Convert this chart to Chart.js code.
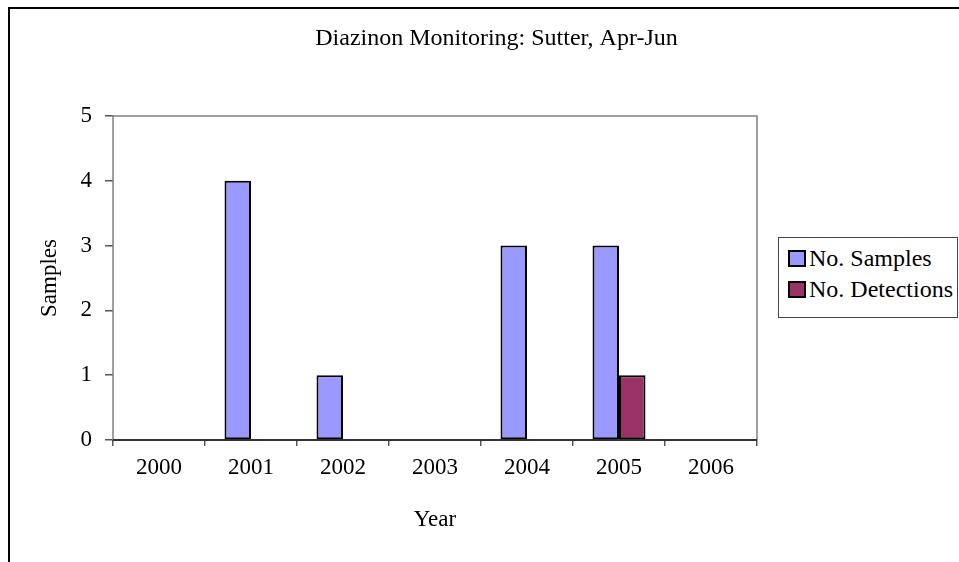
<!DOCTYPE html>
<html>
<head>
<meta charset="utf-8">
<script src="https://cdn.jsdelivr.net/npm/chart.js@4.4.1/dist/chart.umd.min.js"></script>
<style>
  body { margin: 0; background: #fff; overflow: hidden; }
  #wrap { position: relative; width: 959px; height: 562px; overflow: hidden; }
  #frame { position: absolute; left: 8px; top: 7px; width: 1000px; height: 600px; border: 2px solid #000; }
  #chart { position: absolute; left: 0; top: 0; }
  #legend {
    position: absolute; left: 778px; top: 237px; width: 180px; height: 81px;
    border: 1px solid #444; background: #fff; box-sizing: border-box;
    font-family: "Liberation Serif", "Times New Roman", serif; font-size: 24px; color: #000;
  }
  #legend .item { position: absolute; left: 9px; height: 28px; line-height: 28px; white-space: nowrap; }
  #legend .sw { display: inline-block; width: 14px; height: 13px; border: 2px solid #000; vertical-align: -1px; margin-right: 3px; }
</style>
</head>
<body>
<div id="wrap">
  <div id="frame"></div>
  <canvas id="chart" width="959" height="562"></canvas>
  <div id="legend"></div>
</div>
<script>
// data
const years = ["2000", "2001", "2002", "2003", "2004", "2005", "2006"];
const samples = [0, 4, 1, 0, 3, 3, 0];
const detections = [0, 0, 0, 0, 0, 1, 0];
const yTicks = [0, 1, 2, 3, 4, 5];

const serif = "'Liberation Serif', 'Times New Roman', serif";

const datasets = [
    { label: "No. Samples", data: samples, backgroundColor: "#9999ff" },
    { label: "No. Detections", data: detections, backgroundColor: "#993366" },
];
datasets.forEach(d => {
    d.borderColor = "#000";
    d.borderWidth = 2;
    d.borderSkipped = false;
    d.categoryPercentage = 0.576;
    d.barPercentage = 1.0;
    d.yAxisID = "y";
});

// grey frame round the plot area
const plotFrame = {
    id: "plotFrame",
    afterDatasetsDraw(chart) {
        const a = chart.chartArea, c = chart.ctx;
        c.save();
        c.strokeStyle = "#808080";
        c.lineWidth = 1.5;
        c.beginPath();
        c.moveTo(a.left, a.bottom);
        c.lineTo(a.left, a.top);
        c.lineTo(a.right, a.top);
        c.lineTo(a.right, a.bottom);
        c.stroke();
        c.strokeStyle = "#333";
        c.lineWidth = 2;
        c.beginPath();
        c.moveTo(a.left, a.bottom);
        c.lineTo(a.right, a.bottom);
        c.stroke();
        c.restore();
    },
};

const ctx = document.getElementById("chart");
const chart = new Chart(ctx, {
    type: "bar",
    data: { labels: years, datasets: datasets },
    options: {
        responsive: false,
        animation: false,
        layout: { padding: { left: 34, right: 0, top: 0, bottom: 0 } },
        plugins: {
            legend: { display: false },
            tooltip: { enabled: false },
            title: {
                display: true,
                text: "Diazinon Monitoring: Sutter, Apr-Jun",
                color: "#000",
                font: { family: serif, size: 24, weight: "normal" },
                padding: { top: 24.6, bottom: 62.6 },
            },
        },
        scales: {
            x: {
                grid: { offset: true, drawOnChartArea: false, drawTicks: true, tickLength: 6, color: "#555", lineWidth: 1.5 },
                border: { display: false },
                ticks: { color: "#000", font: { family: serif, size: 23 }, padding: 8, maxRotation: 0 },
                title: { display: true, text: "Year", color: "#000", font: { family: serif, size: 23 }, padding: { top: 0, bottom: 28 } },
                afterFit(s) { s.height = 122; },
            },
            y: {
                min: 0,
                max: 5,
                afterBuildTicks(s) { s.ticks = yTicks.map(v => ({ value: v })); },
                grid: { drawOnChartArea: false, drawTicks: true, tickLength: 8, color: "#555", lineWidth: 1.5 },
                border: { display: false },
                ticks: { color: "#000", font: { family: serif, size: 23 }, padding: 13 },
                title: { display: true, text: "Samples", color: "#000", font: { family: serif, size: 23 }, padding: { top: 2, bottom: 0 } },
                afterFit(s) { s.width = 79; },
            },
            // empty axis that keeps room on the right for the legend
            spacer: {
                type: "linear",
                position: "right",
                grid: { display: false },
                border: { display: false },
                ticks: { display: false },
                afterFit(s) { s.width = 202; },
            },
        },
    },
    plugins: [plotFrame],
});

// legend box built from the datasets
const legend = document.getElementById("legend");
datasets.forEach((d, i) => {
    const item = document.createElement("div");
    item.className = "item";
    item.style.top = (6 + i * 31) + "px";
    const sw = document.createElement("span");
    sw.className = "sw";
    sw.style.background = d.backgroundColor;
    item.appendChild(sw);
    item.appendChild(document.createTextNode(d.label));
    legend.appendChild(item);
});
</script>
</body>
</html>
